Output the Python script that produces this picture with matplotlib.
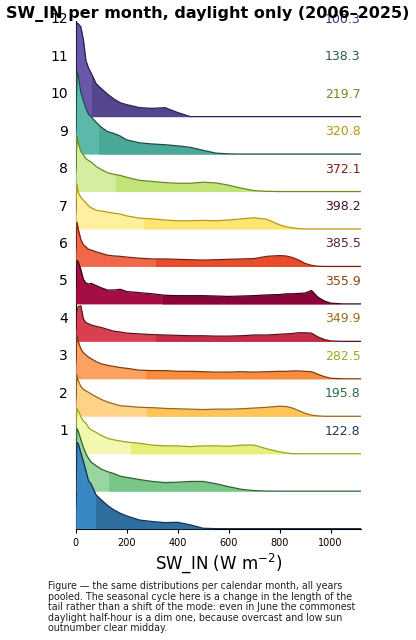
import matplotlib
matplotlib.use("Agg")
import matplotlib.pyplot as plt
from matplotlib.patches import Rectangle

sw = [0, 5, 10, 20, 30, 40, 50, 60, 80, 100, 125, 150, 175, 200, 250, 300, 350,
      400, 450, 500, 550, 600, 650, 700, 750, 800, 825, 850, 875, 900, 925, 950,
      975, 1000, 1050, 1118]

# relative density per month (1.0 = one ridge spacing)
h_jan = [0.6, 2.3, 2.27, 2.03, 1.8, 1.55, 1.28, 1.2, 0.9, 0.77, 0.62, 0.5, 0.41, 0.34, 0.23, 0.19,
         0.16, 0.17, 0.10, 0.01, 0, 0, 0, 0, 0, 0, 0, 0, 0, 0, 0, 0, 0, 0, 0, 0]
h_feb = [0.45, 1.67, 1.6, 1.38, 1.17, 1.0, 0.88, 0.78, 0.68, 0.59, 0.52, 0.47, 0.4, 0.37, 0.31, 0.26,
         0.23, 0.24, 0.26, 0.26, 0.2, 0.12, 0.05, 0.015, 0.003, 0, 0, 0, 0, 0, 0, 0, 0, 0, 0, 0]
h_mar = [0.5, 1.2, 1.15, 0.99, 0.87, 0.82, 0.7, 0.64, 0.57, 0.49, 0.41, 0.37, 0.34, 0.31, 0.28, 0.23,
         0.21, 0.21, 0.19, 0.21, 0.21, 0.2, 0.23, 0.23, 0.13, 0.05, 0.02, 0.003, 0, 0, 0, 0, 0, 0, 0, 0]
h_apr = [0.4, 1.1, 0.95, 0.8, 0.72, 0.68, 0.64, 0.6, 0.52, 0.45, 0.38, 0.33, 0.28, 0.27, 0.24, 0.23,
         0.21, 0.2, 0.19, 0.18, 0.19, 0.19, 0.2, 0.22, 0.24, 0.27, 0.26, 0.22, 0.15, 0.08, 0.03, 0.01,
         0, 0, 0, 0]
h_may = [0.4, 1.15, 1.0, 0.8, 0.7, 0.64, 0.58, 0.54, 0.46, 0.4, 0.36, 0.33, 0.3, 0.28, 0.23, 0.22,
         0.22, 0.2, 0.2, 0.19, 0.18, 0.18, 0.19, 0.18, 0.19, 0.2, 0.2, 0.21, 0.21, 0.2, 0.19, 0.12,
         0.06, 0.015, 0, 0]
h_jun = [0.3, 0.8, 0.93, 0.95, 0.6, 0.5, 0.47, 0.44, 0.4, 0.37, 0.32, 0.27, 0.25, 0.22, 0.2, 0.18,
         0.17, 0.16, 0.15, 0.15, 0.14, 0.14, 0.15, 0.17, 0.17, 0.19, 0.2, 0.21, 0.23, 0.23, 0.22, 0.12,
         0.05, 0.01, 0, 0]
h_jul = [0.4, 1.16, 1.12, 0.92, 0.66, 0.56, 0.53, 0.55, 0.49, 0.43, 0.37, 0.37, 0.39, 0.33, 0.3, 0.27,
         0.23, 0.22, 0.22, 0.22, 0.21, 0.2, 0.21, 0.22, 0.24, 0.25, 0.27, 0.27, 0.28, 0.29, 0.36, 0.18,
         0.08, 0.02, 0, 0]
h_aug = [0.4, 1.18, 1.0, 0.72, 0.58, 0.52, 0.46, 0.44, 0.39, 0.35, 0.3, 0.28, 0.27, 0.25, 0.22, 0.2,
         0.2, 0.19, 0.18, 0.17, 0.18, 0.19, 0.2, 0.21, 0.27, 0.29, 0.28, 0.24, 0.17, 0.08, 0.03, 0.005,
         0, 0, 0, 0]
h_sep = [0.4, 1.2, 0.98, 0.84, 0.77, 0.7, 0.62, 0.57, 0.5, 0.48, 0.45, 0.42, 0.4, 0.35, 0.29, 0.27,
         0.24, 0.22, 0.22, 0.23, 0.22, 0.24, 0.27, 0.3, 0.26, 0.11, 0.06, 0.03, 0.01, 0, 0, 0,
         0, 0, 0, 0]
h_oct = [0.5, 1.47, 1.3, 1.07, 0.98, 0.88, 0.83, 0.79, 0.67, 0.59, 0.5, 0.46, 0.43, 0.38, 0.3, 0.27,
         0.24, 0.22, 0.22, 0.25, 0.23, 0.17, 0.09, 0.025, 0.005, 0, 0, 0, 0, 0, 0, 0, 0, 0, 0, 0]
h_nov = [0.6, 2.2, 2.1, 1.65, 1.43, 1.22, 1.07, 1.0, 0.85, 0.72, 0.6, 0.55, 0.48, 0.38, 0.3, 0.27,
         0.25, 0.22, 0.18, 0.1, 0.025, 0.005, 0, 0, 0, 0, 0, 0, 0, 0, 0, 0, 0, 0, 0, 0]
h_dec = [0.6, 2.5, 2.48, 2.4, 2.06, 1.5, 1.3, 1.17, 0.88, 0.75, 0.6, 0.47, 0.37, 0.32, 0.24, 0.22,
         0.24, 0.11, 0.0, 0, 0, 0, 0, 0, 0, 0, 0, 0, 0, 0, 0, 0, 0, 0, 0, 0]

months = ["1", "2", "3", "4", "5", "6", "7", "8", "9", "10", "11", "12"]
means = [122.8, 195.8, 282.5, 349.9, 355.9, 385.5, 398.2, 372.1, 320.8, 219.7, 138.3, 100.3]
medians = [81, 131, 215, 278, 276, 315, 344, 316, 266, 160, 93, 63]

ridges = [h_jan, h_feb, h_mar, h_apr, h_may, h_jun, h_jul, h_aug, h_sep, h_oct, h_nov, h_dec]

light = ['#3a88c2', '#98d5a0', '#f2f8b0', '#fed389', '#fba263', '#d8404f',
         '#a50d45', '#f0674a', '#fff0a0', '#d3eea0', '#5cb8a8', '#6b57aa']
dark = ['#2e6fa0', '#79c688', '#e5f07a', '#fec45a', '#f88c3e', '#c42c47',
        '#8a0538', '#e84c2c', '#fde573', '#c2e27a', '#4aa898', '#55458f']
edge = ['#16304f', '#2c6232', '#9aa51a', '#9c6510', '#7e3a0a', '#5c1018',
        '#3d0418', '#7a1e0e', '#b59a0a', '#6a8a20', '#1b4a45', '#2a1f50']
textc = ['#1f3a5f', '#2e6b3c', '#a0ab1e', '#a06a14', '#8b4513', '#5e1f3e',
         '#4a0d2a', '#7f1d12', '#b8960c', '#6b8c23', '#2b5955', '#3f3275']

label_lift = 2.6   # month labels sit above their ridge baseline

fig = plt.figure(figsize=(4.16, 6.4), dpi=100)
ax = fig.add_axes([0.182, 0.174, 0.685, 0.793])

for i, h in enumerate(ridges):
    z = 30 - 2 * i  # lower months drawn in front
    base = [i] * len(sw)
    top = [i + v for v in h]
    ax.fill_between(sw, base, top, color=light[i], lw=0, zorder=z)
    right = ax.fill_between(sw, base, top, color=dark[i], lw=0, zorder=z + 0.5)
    clip = Rectangle((medians[i], i - 0.5), 2000, 5, transform=ax.transData)
    right.set_clip_path(clip)
    ax.plot(sw, top, color=edge[i], lw=0.9, zorder=z + 1)
    ax.text(-0.027, i + label_lift, months[i], transform=ax.get_yaxis_transform(),
            ha='right', va='center', fontsize=10, zorder=50)
    ax.text(1.0, i + label_lift, f"{means[i]:.1f}", transform=ax.get_yaxis_transform(),
            ha='right', va='center', fontsize=9, color=textc[i], zorder=50, clip_on=False)

ax.set_xlim(0, 1118)
ax.set_ylim(0, 13.55)
ax.set_yticks([])
ax.set_xticks([0, 200, 400, 600, 800, 1000])
ax.tick_params(axis='x', labelsize=7, length=3)
ax.spines['top'].set_visible(False)
ax.spines['right'].set_visible(False)
ax.set_xlabel("SW_IN (W m$^{-2}$)", fontsize=12, labelpad=3)

fig.text(0.5, 1 - 14 / 640, "SW_IN per month, daylight only (2006–2025)",
         ha='center', va='center', fontsize=11.5, fontweight='bold', zorder=60)

caption = ("Figure — the same distributions per calendar month, all years\n"
           "pooled. The seasonal cycle here is a change in the length of the\n"
           "tail rather than a shift of the mode: even in June the commonest\n"
           "daylight half-hour is a dim one, because overcast and low sun\n"
           "outnumber clear midday.")
fig.text(0.115, 1 - 581 / 640, caption, ha='left', va='top', fontsize=6.85,
         linespacing=1.07, color='#222222')

fig.savefig("out.png", dpi=100)
